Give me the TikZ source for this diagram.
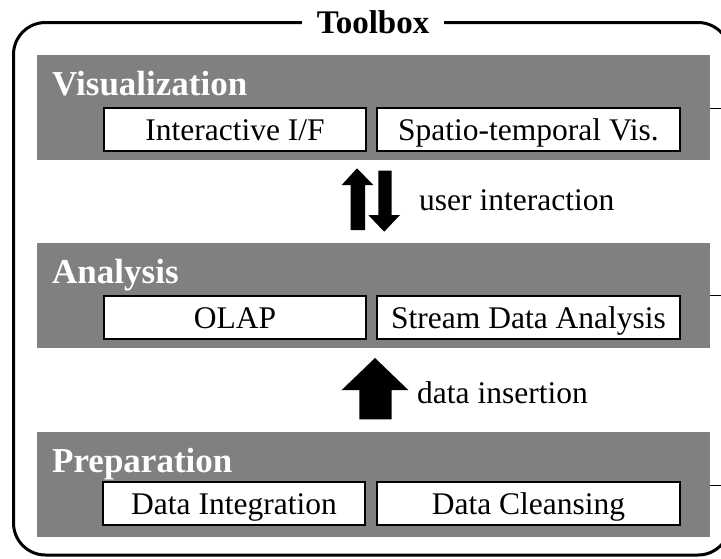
\documentclass[tikz,border=0pt]{standalone}
\usepackage{fontspec}
\setmainfont{Liberation Serif}
\begin{document}
\begin{tikzpicture}[x=1pt,y=-1pt,
  band/.style={fill={rgb,255:red,128;green,128;blue,128}, draw=none, minimum width=673pt, minimum height=105pt, inner sep=0pt},
  bandlabel/.style={text=white, font=\fontsize{35}{35}\selectfont\bfseries, inner sep=0pt, anchor=base west},
  itembox/.style={draw=black, line width=1.5pt, fill=white, minimum height=43pt, inner sep=0pt, text height=21pt, text depth=0pt, font=\fontsize{31.5}{31.5}\selectfont},
  flowlabel/.style={font=\fontsize{31.5}{31.5}\selectfont, inner sep=0pt, anchor=base west},
  frame/.style={line width=3pt, rounded corners=32pt},
  link/.style={line width=1pt}
]
\useasboundingbox (0,0) rectangle (721,558);
\clip (0,0) rectangle (721,558);
% outer frame
\draw[frame] (13.5,22.5) rectangle (730,555);
\node[fill=white, inner xsep=15pt, inner ysep=3pt, anchor=base, font=\fontsize{33}{33}\selectfont\bfseries] (title) at (373,33) {Toolbox};
% bands
\node[band] (vis) at (373.5,107.5) {};
\node[band] (ana) at (373.5,295) {};
\node[band] (prep) at (373.5,484.5) {};
\node[bandlabel] (visl) at (52,95) {Visualization};
\node[bandlabel] (anal) at (52,283) {Analysis};
\node[bandlabel] (prepl) at (52,472) {Preparation};
% item boxes
\node[itembox, minimum width=262pt] (if) at (235,129.5) {Interactive I/F};
\node[itembox, minimum width=303pt] (stv) at (528.5,129.5) {Spatio-temporal Vis.};
\node[itembox, minimum width=262pt] (olap) at (235,317.5) {OLAP};
\node[itembox, minimum width=303pt] (sda) at (528.5,317.5) {Stream Data Analysis};
\node[itembox, minimum width=262pt] (di) at (234,503.5) {Data Integration};
\node[itembox, minimum width=303pt] (dc) at (528.5,503.5) {Data Cleansing};
% links to the right
\coordinate (visr) at (730,108);
\coordinate (anar) at (730,295);
\coordinate (prepr) at (730,485);
\draw[link] (vis.east |- visr) -- (visr);
\draw[link] (ana.east |- anar) -- (anar);
\draw[link] (prep.east |- prepr) -- (prepr);
% user interaction arrows
\fill[black] (357,168.3) -- (373.3,185) -- (365,185) -- (365,230) -- (350.7,230) -- (350.7,185) -- (341.7,185) -- cycle;
\fill[black] (384.2,231.7) -- (400,215) -- (391.7,215) -- (391.7,170.7) -- (378.3,170.7) -- (378.3,215) -- (368.3,215) -- cycle;
\node[flowlabel] (ui) at (419,210) {user interaction};
% data insertion arrow
\fill[black] (375,358) -- (408.3,390) -- (391.7,390) -- (391.7,419.3) -- (359.3,419.3) -- (359.3,390) -- (341.7,390) -- cycle;
\node[flowlabel] (dins) at (417,403) {data insertion};
\end{tikzpicture}
\end{document}
